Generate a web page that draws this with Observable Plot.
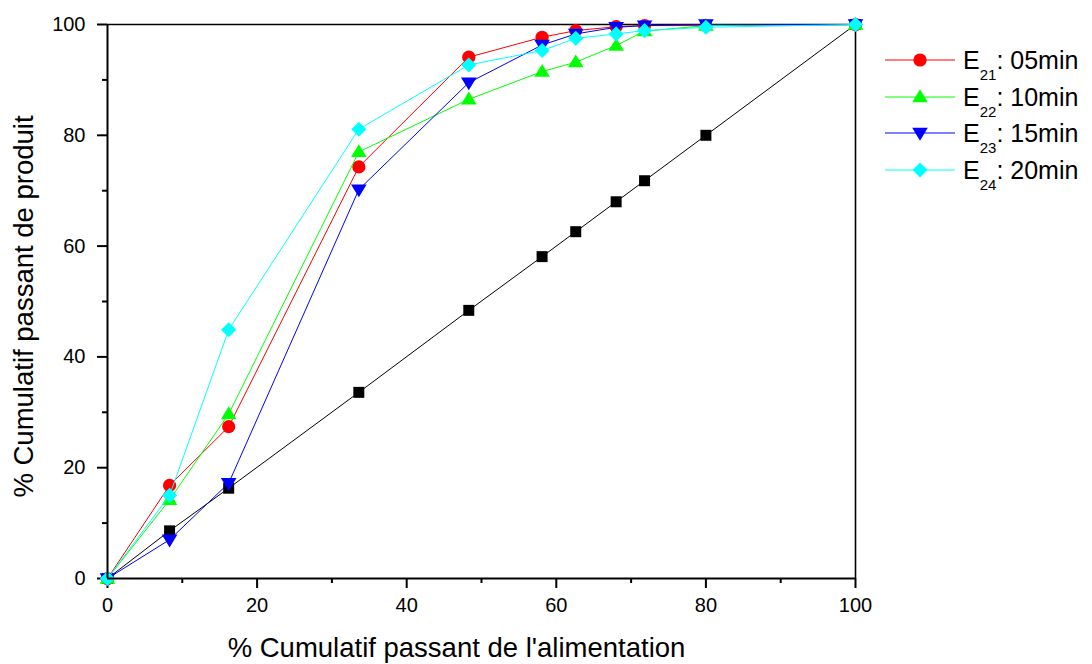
<!DOCTYPE html>
<html>
<head>
<meta charset="utf-8">
<script src="https://cdn.jsdelivr.net/npm/d3@7"></script>
<script src="https://cdn.jsdelivr.net/npm/@observablehq/plot@0.6"></script>
<style>
  html, body { margin: 0; padding: 0; background: white; }
  #wrap { position: relative; width: 1092px; height: 664px; font-family: "Liberation Sans", Arial, sans-serif; }
  #legend { position: absolute; left: 0; top: 0; }
</style>
</head>
<body>
<div id="wrap"></div>
<script>
// ---- data ----
const xFeed = [0, 8.3, 16.2, 33.6, 48.3, 58.1, 62.6, 68.0, 71.8, 80, 100];
const e21 = [0, 16.8, 27.4, 74.3, 94.1, 97.7, 98.9, 99.6, 99.8, 99.8, 100];
const e22 = [0, 14.2, 29.7, 77.0, 86.5, 91.5, 93.2, 96.2, 98.8, 99.8, 100];
const e23 = [0, 7.0, 17.2, 70.2, 89.5, 96.3, 98.3, 99.5, 99.8, 100, 100];
const e24 = [0, 15.0, 44.9, 81.1, 92.7, 95.3, 97.5, 98.3, 98.9, 99.5, 100];
const feedLine = [0, 8.6, 16.3, 33.6, 48.4, 58.1, 62.6, 68.0, 71.8, 80, 100];

const seriesNames = ["E21: 05min", "E22: 10min", "E23: 15min", "E24: 20min", "Alimentation"];
const seriesSub = ["21", "22", "23", "24", null];
const seriesLabel = ["05min", "10min", "15min", "20min", null];
const seriesValues = [e21, e22, e23, e24, feedLine];
const seriesColors = ["#ff0000", "#00ff00", "#0000ff", "#00ffff", "#000000"];

const xMajor = [0, 20, 40, 60, 80, 100];
const xMinor = [10, 30, 50, 70, 90];
const yMajor = [0, 20, 40, 60, 80, 100];
const yMinor = [10, 30, 50, 70, 90];

const xTitle = "% Cumulatif passant de l'alimentation";
const yTitle = "% Cumulatif passant de produit";

// ---- symbols ----
const sqrt3 = Math.sqrt(3);
const triangleUp = {
  draw(ctx, size) {
    const y = -Math.sqrt(size / (sqrt3 * 3));
    ctx.moveTo(0, y * 2 * 0.85);
    ctx.lineTo(-sqrt3 * y, -y * 1.15);
    ctx.lineTo(sqrt3 * y, -y * 1.15);
    ctx.closePath();
  }
};
const triangleDown = {
  draw(ctx, size) {
    const y = -Math.sqrt(size / (sqrt3 * 3));
    ctx.moveTo(0, -y * 2 * 0.85);
    ctx.lineTo(-sqrt3 * y, y * 1.15);
    ctx.lineTo(sqrt3 * y, y * 1.15);
    ctx.closePath();
  }
};
const seriesSymbols = ["circle", triangleUp, triangleDown, "diamond2", "square"];
const seriesR = [6.6, 5.8, 5.8, 6.8, 6.2];

const tables = seriesValues.map((vals, i) =>
  xFeed.map((x, j) => ({x, y: vals[j], s: seriesNames[i]})));

const marks = [
  Plot.ruleY([100], {stroke: "black", strokeWidth: 1.6}),
  Plot.ruleX([100], {stroke: "black", strokeWidth: 1.6}),
  Plot.axisX({ticks: xMajor, tickSize: 10, tickPadding: 9, strokeWidth: 2, fontSize: 20, label: null, tickFormat: d => d}),
  Plot.axisX({ticks: xMinor, tickSize: 5, strokeWidth: 2, label: null, tickFormat: () => ""}),
  Plot.axisY({ticks: yMajor, tickSize: 10, tickPadding: 12, strokeWidth: 2, fontSize: 20, label: null, tickFormat: d => d}),
  Plot.axisY({ticks: yMinor, tickSize: 5, strokeWidth: 2, label: null, tickFormat: () => ""}),
];
// order: black feed line first, then red, green, blue, cyan
const order = [4, 0, 1, 2, 3];
for (const i of order) {
  marks.push(Plot.line(tables[i], {x: "x", y: "y", stroke: seriesColors[i], strokeWidth: 1}));
  marks.push(Plot.dot(tables[i], {x: "x", y: "y", symbol: seriesSymbols[i], r: seriesR[i], fill: seriesColors[i], stroke: "none"}));
}
marks.push(
  Plot.ruleX([0], {stroke: "black", strokeWidth: 2}),
  Plot.ruleY([0], {stroke: "black", strokeWidth: 2}),
  Plot.text([xTitle], {frameAnchor: "bottom", textAnchor: "middle", dx: -25, dy: 70, fontSize: 27.5, lineAnchor: "middle", fill: "black"}),
  Plot.text([yTitle], {frameAnchor: "left", textAnchor: "middle", dx: -83, dy: 5, rotate: -90, fontSize: 27.5, lineAnchor: "middle", fill: "black"})
);

const chart = Plot.plot({
  width: 1092,
  height: 664,
  marginLeft: 107,
  marginRight: 237,
  marginTop: 24,
  marginBottom: 86,
  x: {domain: [0, 100]},
  y: {domain: [0, 100]},
  symbol: {type: "identity"},
  style: {fontFamily: "'Liberation Sans', Arial, sans-serif", fontSize: "20px", color: "black", background: "white", overflow: "visible"},
  marks
});
document.getElementById("wrap").appendChild(chart);

// ---- legend ----
const leg = d3.select("#wrap").append("svg")
  .attr("id", "legend").attr("width", 1092).attr("height", 664)
  .style("pointer-events", "none");
const rowY = [60, 97, 133, 170];
[0, 1, 2, 3].forEach((i, k) => {
  const g = leg.append("g").attr("transform", `translate(0,${rowY[k]})`);
  g.append("line").attr("x1", 885).attr("x2", 955).attr("y1", 0).attr("y2", 0)
    .attr("stroke", seriesColors[i]).attr("stroke-width", 1);
  const sym = typeof seriesSymbols[i] === "string"
    ? {circle: d3.symbolCircle, diamond2: d3.symbolDiamond2, square: d3.symbolSquare}[seriesSymbols[i]]
    : seriesSymbols[i];
  g.append("path").attr("transform", "translate(920,0)")
    .attr("d", d3.symbol(sym, Math.PI * seriesR[i] * seriesR[i])())
    .attr("fill", seriesColors[i]);
  const t = g.append("text").attr("x", 963).attr("y", 9)
    .attr("font-family", "'Liberation Sans', Arial, sans-serif")
    .attr("font-size", 25).attr("fill", "black");
  t.append("tspan").text("E");
  t.append("tspan").attr("font-size", 15).attr("dy", 11).text(seriesSub[i]);
  t.append("tspan").attr("dy", -11).text(": " + seriesLabel[i]);
});
</script>
</body>
</html>
